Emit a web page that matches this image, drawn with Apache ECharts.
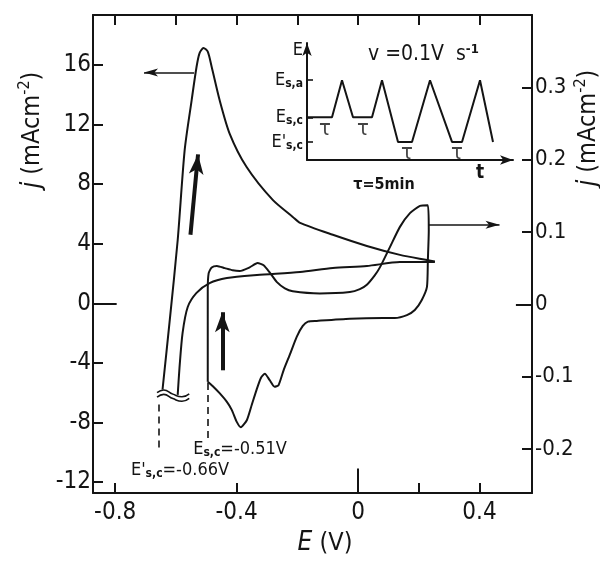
<!DOCTYPE html>
<html lang="en">
<head>
<meta charset="UTF-8">
<script src="https://cdn.jsdelivr.net/npm/echarts@6/dist/echarts.min.js"></script>
<title>Cyclic voltammogram</title>
<style>
    html, body { margin: 0; padding: 0; background: #fff; }
    #chart { width: 600px; height: 561px; }
</style>
</head>
<body>
<div id="chart"></div>
<script>
    // first anodic sweep after the hold at E's,c (left axis, mA cm-2)
    var firstSweepE = [-0.644, -0.620, -0.594, -0.571, -0.548, -0.532, -0.522, -0.509, -0.495, -0.482, -0.456, -0.423, -0.367, -0.281, -0.215, -0.191, -0.083, 0.029, 0.138, 0.227, 0.253];
    var firstSweepJ = [-5.8, -1.1, 4.25, 10.3, 13.65, 15.87, 16.8, 17.15, 16.9, 15.87, 13.65, 11.4, 9.15, 6.94, 5.8, 5.4, 4.6, 3.85, 3.25, 2.9, 2.8];
    // its cathodic return sweep (left axis)
    var returnSweepE = [0.253, 0.138, 0.029, -0.083, -0.191, -0.333, -0.432, -0.489, -0.532, -0.561, -0.578, -0.588, -0.594];
    var returnSweepJ = [2.77, 2.77, 2.5, 2.37, 2.1, 1.9, 1.7, 1.36, 0.7, -0.25, -2.0, -4.3, -6.15];
    // cycle after the hold at Es,c (right axis, mA cm-2)
    var cycleE = [-0.495, -0.495, -0.495, -0.492, -0.482, -0.465, -0.439, -0.413, -0.390, -0.357, -0.331, -0.311, -0.291, -0.268, -0.241, -0.215, -0.126, -0.027, 0.006, 0.029, 0.055, 0.072, 0.105, 0.138, 0.171, 0.204, 0.230, 0.233, 0.230, 0.227, 0.210, 0.187, 0.161, 0.121, 0.082, -0.027, -0.136, -0.165, -0.182, -0.202, -0.225, -0.245, -0.262, -0.275, -0.291, -0.307, -0.320, -0.334, -0.350, -0.366, -0.386, -0.399, -0.416, -0.432, -0.456, -0.479, -0.495];
    var cycleJ = [-0.107, -0.035, 0.020, 0.043, 0.051, 0.053, 0.050, 0.047, 0.046, 0.051, 0.057, 0.054, 0.044, 0.031, 0.022, 0.018, 0.015, 0.017, 0.021, 0.027, 0.040, 0.051, 0.079, 0.107, 0.126, 0.136, 0.137, 0.102, 0.061, 0.024, 0.006, -0.008, -0.015, -0.019, -0.019, -0.020, -0.023, -0.024, -0.030, -0.045, -0.070, -0.091, -0.112, -0.114, -0.105, -0.096, -0.102, -0.118, -0.139, -0.160, -0.170, -0.163, -0.146, -0.135, -0.123, -0.113, -0.107];
    // inset: potential program E(t)
    var progT = [0, 2.5, 3.5, 4.6, 6.5, 7.5, 9.1, 10.5, 12.3, 14.5, 15.5, 17.3, 18.6];
    var progE = [2.25, 2.25, 4.2, 2.25, 2.25, 4.2, 0.95, 0.95, 4.2, 0.95, 0.95, 4.2, 0.95];
    var holdT = [1.8, 5.6, 10.0, 15.0];
    var holdE = [1.6, 1.6, 0.35, 0.35];
    var insetLevels = [0.95, 2.25, 4.2];
    var insetLabelPos = [0.95, 2.25, 4.2, 5.8];
    var insetLabelText = ['{e|E\'}{s|s,c}', '{e|E}{s|s,c}', '{e|E}{s|s,a}', '{e|E}'];
    // tick marks and labels
    var leftTicks = [-12, -8, -4, 0, 4, 8, 12, 16];
    var rightTicks = [-0.2, -0.1, 0, 0.1, 0.2, 0.3];
    var bottomLabels = [-0.8, -0.4, 0, 0.4];
    var bottomTicks = [-0.8, -0.4, 0, 0.2, 0.4];
    var topTicks = [-0.8, -0.6, -0.4, -0.2, 0, 0.2, 0.4];

    var INK = '#141414';
    var FONT = "'DejaVu Sans Condensed', 'Liberation Sans Narrow', 'DejaVu Sans', sans-serif";

    function pairs(a, b) {
        return a.map(function (v, i) { return [v, b[i]]; });
    }

    var chart = echarts.init(document.getElementById('chart'));

    var thin = {color: INK, width: 1.6, type: 'solid'};
    var thick = {color: INK, width: 4, type: 'solid'};
    var dashed = {color: INK, width: 1.6, type: [7, 5]};

    var option = {
        animation: false,
        backgroundColor: '#fff',
        grid: [
            {left: 93, top: 15, width: 439, height: 478, outerBoundsMode: 'none'},
            {left: 307, top: 43, width: 206, height: 117, outerBoundsMode: 'none'}
        ],
        xAxis: [
            {
                type: 'value', gridIndex: 0, min: -0.873, max: 0.573, position: 'bottom',
                axisLine: {onZero: false, lineStyle: {color: INK, width: 2}},
                axisTick: {inside: true, length: 10, customValues: bottomTicks, lineStyle: {color: INK, width: 2}},
                axisLabel: {customValues: bottomLabels, color: INK, fontFamily: FONT, fontSize: 24, margin: 8,
                    formatter: function (v) { return String(v); }},
                splitLine: {show: false}
            },
            {
                type: 'value', gridIndex: 0, min: -0.873, max: 0.573, position: 'top',
                axisLine: {onZero: false, lineStyle: {color: INK, width: 2}},
                axisTick: {inside: true, length: 10, customValues: topTicks, lineStyle: {color: INK, width: 2}},
                axisLabel: {show: false},
                splitLine: {show: false}
            },
            {
                type: 'value', gridIndex: 1, min: 0, max: 20.6,
                axisLine: {onZero: false, symbol: ['none', 'arrow'], symbolSize: [7, 13], lineStyle: {color: INK, width: 2}},
                axisTick: {show: false},
                axisLabel: {customValues: [17.3], color: INK, fontFamily: FONT, fontSize: 19, fontWeight: 'bold', margin: 4,
                    formatter: function () { return 't'; }},
                splitLine: {show: false}
            }
        ],
        yAxis: [
            {
                type: 'value', gridIndex: 0, min: -12.74, max: 19.36, position: 'left',
                axisLine: {onZero: false, lineStyle: {color: INK, width: 2}},
                axisTick: {inside: true, length: 10, customValues: leftTicks, lineStyle: {color: INK, width: 2}},
                axisLabel: {customValues: leftTicks, color: INK, fontFamily: FONT, fontSize: 24, margin: 2,
                    formatter: function (v) { return String(v); }},
                splitLine: {show: false}
            },
            {
                type: 'value', gridIndex: 0, min: -0.261, max: 0.40, position: 'right',
                axisLine: {onZero: false, lineStyle: {color: INK, width: 2}},
                axisTick: {inside: true, length: 10, customValues: rightTicks, lineStyle: {color: INK, width: 2}},
                axisLabel: {customValues: rightTicks, color: INK, fontFamily: FONT, fontSize: 22, margin: 3,
                    formatter: function (v) { return String(v); }},
                splitLine: {show: false}
            },
            {
                type: 'value', gridIndex: 1, min: 0, max: 6.16,
                axisLine: {onZero: false, symbol: ['none', 'arrow'], symbolSize: [7, 13], lineStyle: {color: INK, width: 2}},
                axisTick: {inside: true, length: 6, customValues: insetLevels, lineStyle: {color: INK, width: 1.6}},
                axisLabel: {
                    customValues: insetLabelPos, color: INK, fontFamily: FONT, margin: 4,
                    formatter: function (v) {
                        var i = insetLabelPos.indexOf(v);
                        return i < 0 ? '' : insetLabelText[i];
                    },
                    rich: {
                        e: {fontFamily: FONT, fontSize: 18, color: INK, lineHeight: 20},
                        s: {fontFamily: FONT, fontSize: 12, fontWeight: 'bold', color: INK, lineHeight: 10, verticalAlign: 'bottom'}
                    }
                },
                splitLine: {show: false}
            }
        ],
        series: [
            {
                name: 'first sweep', type: 'line', xAxisIndex: 0, yAxisIndex: 0,
                data: pairs(firstSweepE, firstSweepJ), smooth: 0.25, showSymbol: false,
                lineStyle: {color: INK, width: 2}, z: 3,
                markLine: {
                    silent: true, symbol: ['none', 'none'], label: {show: false}, animation: false,
                    data: [
                        [{coord: [-0.540, 15.5], symbol: 'none'}, {coord: [-0.705, 15.5], symbol: 'arrow', symbolSize: [6, 14], lineStyle: thin}],
                        [{coord: [-0.552, 4.6], symbol: 'none'}, {coord: [-0.527, 10.0], symbol: 'arrow', symbolSize: [11, 20], lineStyle: thick}],
                        [{coord: [-0.447, -4.5], symbol: 'none'}, {coord: [-0.447, -0.6], symbol: 'arrow', symbolSize: [11, 20], lineStyle: thick}],
                        [{coord: [-0.656, -6.8], symbol: 'none'}, {coord: [-0.656, -9.7], symbol: 'none', lineStyle: dashed}],
                        [{coord: [-0.494, -5.35], symbol: 'none'}, {coord: [-0.494, -9.2], symbol: 'none', lineStyle: dashed}],
                        [{coord: [-0.873, 0], symbol: 'none'}, {coord: [-0.795, 0], symbol: 'none', lineStyle: {color: INK, width: 2, type: 'solid'}}],
                        [{coord: [0, -12.74], symbol: 'none'}, {coord: [0, -11.1], symbol: 'none', lineStyle: {color: INK, width: 2, type: 'solid'}}]
                    ]
                }
            },
            {
                name: 'return sweep', type: 'line', xAxisIndex: 0, yAxisIndex: 0,
                data: pairs(returnSweepE, returnSweepJ), smooth: 0.25, showSymbol: false,
                lineStyle: {color: INK, width: 2}, z: 3
            },
            {
                name: 'break1', type: 'line', xAxisIndex: 0, yAxisIndex: 0,
                data: [[-0.662, -6.0], [-0.640, -5.82], [-0.610, -6.1], [-0.580, -6.28], [-0.556, -6.08]],
                smooth: 0.5, showSymbol: false, lineStyle: {color: INK, width: 1.6}, z: 4
            },
            {
                name: 'break2', type: 'line', xAxisIndex: 0, yAxisIndex: 0,
                data: [[-0.662, -6.3], [-0.640, -6.12], [-0.610, -6.4], [-0.580, -6.58], [-0.556, -6.38]],
                smooth: 0.5, showSymbol: false, lineStyle: {color: INK, width: 1.6}, z: 4
            },
            {
                name: 'cycle', type: 'line', xAxisIndex: 0, yAxisIndex: 1,
                data: pairs(cycleE, cycleJ), smooth: 0.2, showSymbol: false,
                lineStyle: {color: INK, width: 2}, z: 3,
                markLine: {
                    silent: true, symbol: ['none', 'none'], label: {show: false}, animation: false,
                    data: [
                        [{coord: [0.233, 0.110], symbol: 'none'}, {coord: [0.466, 0.110], symbol: 'arrow', symbolSize: [6, 14], lineStyle: thin}],
                        [{coord: [0.573, 0], symbol: 'none'}, {coord: [0.52, 0], symbol: 'none', lineStyle: {color: INK, width: 2, type: 'solid'}}]
                    ]
                }
            },
            {
                name: 'program', type: 'line', xAxisIndex: 2, yAxisIndex: 2,
                data: pairs(progT, progE), showSymbol: false,
                lineStyle: {color: INK, width: 2}
            },
            {
                name: 'hold', type: 'scatter', xAxisIndex: 2, yAxisIndex: 2,
                data: pairs(holdT, holdE), symbolSize: 1, itemStyle: {color: 'rgba(0,0,0,0)'},
                label: {show: true, position: 'inside', formatter: '\u03c4', color: INK, fontFamily: FONT, fontSize: 22}
            }
        ],
        graphic: [
            {
                type: 'text', x: 32, y: 130, rotation: Math.PI / 2,
                style: {
                    text: '{i|j}{n| (mAcm}{p|-2}{n|)}', align: 'center', verticalAlign: 'middle',
                    textAlign: 'center', textVerticalAlign: 'middle',
                    rich: {
                        i: {fontFamily: FONT, fontSize: 26, fontStyle: 'italic', fill: INK, lineHeight: 30},
                        n: {fontFamily: FONT, fontSize: 25, fill: INK, lineHeight: 30},
                        p: {fontFamily: FONT, fontSize: 16, fill: INK, lineHeight: 16, verticalAlign: 'top'}
                    }
                }
            },
            {
                type: 'text', x: 588, y: 128, rotation: Math.PI / 2,
                style: {
                    text: '{i|j}{n| (mAcm}{p|-2}{n|)}', align: 'center', verticalAlign: 'middle',
                    textAlign: 'center', textVerticalAlign: 'middle',
                    rich: {
                        i: {fontFamily: FONT, fontSize: 26, fontStyle: 'italic', fill: INK, lineHeight: 30},
                        n: {fontFamily: FONT, fontSize: 25, fill: INK, lineHeight: 30},
                        p: {fontFamily: FONT, fontSize: 16, fill: INK, lineHeight: 16, verticalAlign: 'top'}
                    }
                }
            },
            {
                type: 'text', x: 325, y: 543,
                style: {
                    text: '{i|E}{n| (V)}', align: 'center', verticalAlign: 'middle',
                    textAlign: 'center', textVerticalAlign: 'middle',
                    rich: {
                        i: {fontFamily: FONT, fontSize: 26, fontStyle: 'italic', fill: INK},
                        n: {fontFamily: FONT, fontSize: 25, fill: INK}
                    }
                }
            },
            {
                type: 'text', x: 368, y: 55,
                style: {
                    text: '{n|v =0.1V  s}{p|-1}', align: 'left', verticalAlign: 'middle',
                    textAlign: 'left', textVerticalAlign: 'middle',
                    rich: {
                        n: {fontFamily: FONT, fontSize: 21, fill: INK, lineHeight: 24},
                        p: {fontFamily: FONT, fontSize: 13, fontWeight: 'bold', fill: INK, lineHeight: 12, verticalAlign: 'top'}
                    }
                }
            },
            {
                type: 'text', x: 384, y: 185,
                style: {
                    text: '\u03c4=5min', align: 'center', verticalAlign: 'middle',
                    textAlign: 'center', textVerticalAlign: 'middle',
                    font: 'bold 16px ' + FONT, fill: INK
                }
            },
            {
                type: 'text', x: 180, y: 470,
                style: {
                    text: '{e|E\'}{s|s,c}{e|=-0.66V}', align: 'center', verticalAlign: 'middle',
                    textAlign: 'center', textVerticalAlign: 'middle',
                    rich: {
                        e: {fontFamily: FONT, fontSize: 18, fill: INK, lineHeight: 20},
                        s: {fontFamily: FONT, fontSize: 12, fontWeight: 'bold', fill: INK, lineHeight: 10, verticalAlign: 'bottom'}
                    }
                }
            },
            {
                type: 'text', x: 240, y: 449,
                style: {
                    text: '{e|E}{s|s,c}{e|=-0.51V}', align: 'center', verticalAlign: 'middle',
                    textAlign: 'center', textVerticalAlign: 'middle',
                    rich: {
                        e: {fontFamily: FONT, fontSize: 18, fill: INK, lineHeight: 20},
                        s: {fontFamily: FONT, fontSize: 12, fontWeight: 'bold', fill: INK, lineHeight: 10, verticalAlign: 'bottom'}
                    }
                }
            }
        ]
    };

    chart.setOption(option);
</script>
</body>
</html>
